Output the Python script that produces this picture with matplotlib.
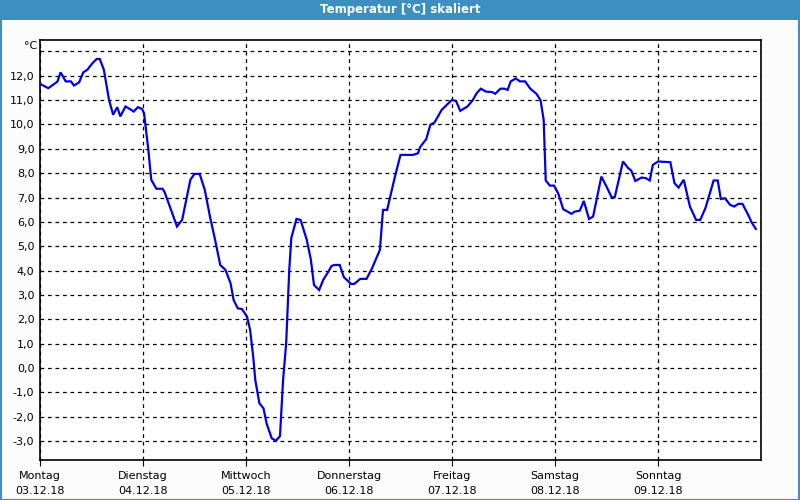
import matplotlib
matplotlib.use("Agg")
import matplotlib.pyplot as plt
from matplotlib.patches import Rectangle

# time in days since Montag 03.12.18 00:00, temperature in °C
days = [
    0.00, 0.08, 0.15, 0.17, 0.20, 0.25, 0.30, 0.33, 0.38, 0.42,
    0.46, 0.51, 0.55, 0.58, 0.62, 0.67, 0.71, 0.75, 0.78, 0.83,
    0.87, 0.91, 0.95, 0.99, 1.01, 1.05, 1.08, 1.13, 1.19, 1.21,
    1.26, 1.33, 1.38, 1.46, 1.50, 1.55, 1.60, 1.65, 1.70, 1.75,
    1.80, 1.85, 1.88, 1.92, 1.96, 2.01, 2.04, 2.07, 2.09, 2.13,
    2.17, 2.20, 2.25, 2.29, 2.33, 2.36, 2.39, 2.42, 2.44, 2.49,
    2.53, 2.59, 2.63, 2.66, 2.71, 2.75, 2.80, 2.83, 2.86, 2.91,
    2.95, 3.02, 3.05, 3.11, 3.17, 3.22, 3.30, 3.33, 3.37, 3.45,
    3.50, 3.62, 3.67, 3.69, 3.75, 3.79, 3.83, 3.90, 3.95, 4.00,
    4.04, 4.08, 4.15, 4.20, 4.24, 4.28, 4.33, 4.39, 4.42, 4.47,
    4.51, 4.54, 4.57, 4.62, 4.66, 4.71, 4.76, 4.82, 4.86, 4.89,
    4.91, 4.95, 4.99, 5.03, 5.08, 5.16, 5.19, 5.24, 5.28, 5.33,
    5.37, 5.45, 5.50, 5.55, 5.58, 5.66, 5.71, 5.74, 5.78, 5.84,
    5.88, 5.92, 5.95, 6.00, 6.12, 6.16, 6.20, 6.25, 6.31, 6.37,
    6.41, 6.46, 6.54, 6.58, 6.61, 6.65, 6.70, 6.74, 6.78, 6.82,
    6.88, 6.91, 6.95,
]
temps = [
    11.67, 11.49, 11.70, 11.77, 12.14, 11.77, 11.77, 11.60, 11.73, 12.14,
    12.25, 12.52, 12.69, 12.69, 12.25, 11.01, 10.40, 10.71, 10.33, 10.74,
    10.64, 10.53, 10.71, 10.64, 10.47, 9.03, 7.73, 7.36, 7.36, 7.22,
    6.63, 5.81, 6.08, 7.73, 7.97, 7.97, 7.31, 6.22, 5.26, 4.23,
    4.03, 3.48, 2.79, 2.45, 2.42, 2.11, 1.56, 0.46, -0.49, -1.45,
    -1.66, -2.28, -2.89, -2.99, -2.80, -0.49, 1.01, 4.03, 5.34, 6.12,
    6.08, 5.26, 4.44, 3.41, 3.20, 3.62, 3.96, 4.19, 4.23, 4.23,
    3.73, 3.45, 3.45, 3.66, 3.66, 4.06, 4.85, 6.49, 6.49, 7.93,
    8.75, 8.75, 8.82, 9.07, 9.40, 9.99, 10.08, 10.60, 10.81, 11.01,
    10.96, 10.56, 10.74, 10.99, 11.29, 11.47, 11.35, 11.33, 11.26, 11.47,
    11.47, 11.42, 11.77, 11.89, 11.77, 11.77, 11.47, 11.26, 10.99, 10.19,
    7.70, 7.49, 7.49, 7.18, 6.52, 6.33, 6.42, 6.46, 6.86, 6.12,
    6.22, 7.86, 7.45, 7.01, 7.01, 8.48, 8.21, 8.11, 7.68, 7.82,
    7.80, 7.70, 8.34, 8.48, 8.45, 7.59, 7.41, 7.73, 6.63, 6.08,
    6.08, 6.56, 7.70, 7.70, 6.94, 6.97, 6.70, 6.63, 6.74, 6.74,
    6.25, 5.97, 5.71,
]

day_names = ["Montag", "Dienstag", "Mittwoch", "Donnerstag", "Freitag", "Samstag", "Sonntag"]
day_dates = ["03.12.18", "04.12.18", "05.12.18", "06.12.18", "07.12.18", "08.12.18", "09.12.18"]
y_ticks = list(range(-3, 14))

W, H = 800, 500
fig = plt.figure(figsize=(W / 100, H / 100), dpi=100, facecolor="#fbfcfb")

# title bar + thin frame
fig.patches.append(Rectangle((0, 1 - 20 / H), 1, 20 / H, transform=fig.transFigure,
                             facecolor="#3d8fc2", edgecolor="none", zorder=0))
fig.patches.append(Rectangle((0.5 / W, 0.5 / H), 1 - 1.5 / W, 1 - 1.5 / H,
                             transform=fig.transFigure, facecolor="none",
                             edgecolor="#3d8fc2", linewidth=1.5, zorder=0))
fig.text(0.5, 1 - 10 / H, "Temperatur [°C] skaliert", color="white",
         fontsize=8.5, fontweight="bold", ha="center", va="center")

ax = fig.add_axes([40 / W, 1 - 460 / H, 721 / W, 420 / H])
ax.set_facecolor("white")
ax.plot(days, temps, color="#0000e6", linewidth=1.6, solid_joinstyle="miter", zorder=3)

ax.set_xlim(0, 7)
ax.set_ylim(-3.78, 13.47)

ax.set_yticks(y_ticks)
ax.set_yticklabels([f"{v},0" if v < 13 else "" for v in y_ticks], fontsize=8)
ax.set_xticks(range(7))
ax.set_xticklabels([f"{n}\n{d}" for n, d in zip(day_names, day_dates)],
                   fontsize=8, linespacing=1.6)
ax.tick_params(axis="y", length=0, pad=4)
ax.tick_params(axis="x", length=4, pad=4, direction="out")

ax.grid(True, color="black", linestyle=(0, (3, 3)), linewidth=0.9)
for s in ax.spines.values():
    s.set_color("black")
    s.set_linewidth(1.2)

fig.text(37 / W, 1 - 46 / H, "°C", fontsize=8, ha="right", va="center")

fig.savefig("out.png", dpi=100, facecolor=fig.get_facecolor())
